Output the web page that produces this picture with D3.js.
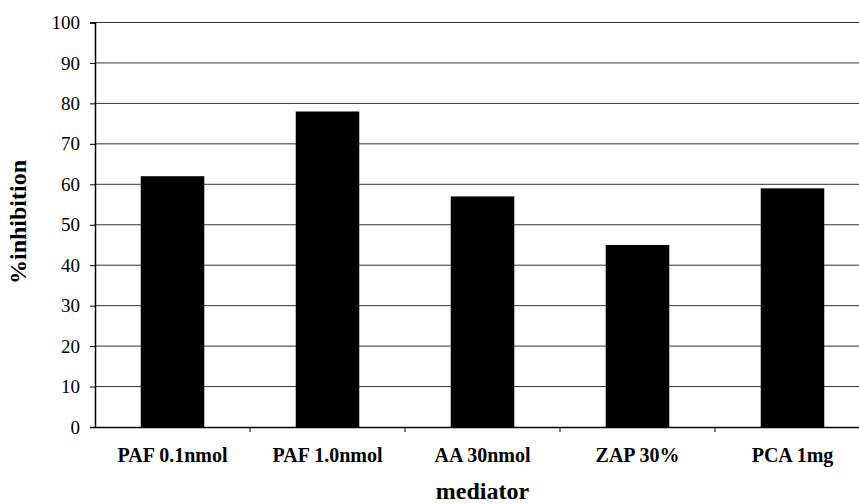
<!DOCTYPE html>
<html><head><meta charset="utf-8">
<script src="https://cdn.jsdelivr.net/npm/d3@7"></script>
<style>body{margin:0;background:#fff}svg{display:block}
text{font-family:"Liberation Serif","Times New Roman","DejaVu Serif",serif !important;fill:#000}</style>
</head><body>
<svg id="c" width="859" height="504"></svg>
<script>
const categories = ["PAF 0.1nmol", "PAF 1.0nmol", "AA 30nmol", "ZAP 30%", "PCA 1mg"];
const values = [62, 78, 57, 45, 59];
const yTicks = [0, 10, 20, 30, 40, 50, 60, 70, 80, 90, 100];
const yTitle = "%inhibition";
const xTitle = "mediator";

const svg = d3.select("#c");
const m = {left: 95, top: 22.5, right: 870, bottom: 427};
const x = d3.scaleBand().domain(categories).range([m.left, m.right]).paddingInner(0.59).paddingOuter(0.295);
const xb = d3.scaleBand().domain(categories).range([m.left, m.right]);
const y = d3.scaleLinear().domain([0, 100]).range([m.bottom, m.top]);

// gridlines
svg.append("g").selectAll("line").data(yTicks.filter(d => d > 0)).join("line")
  .attr("x1", m.left).attr("x2", m.right)
  .attr("y1", d => y(d)).attr("y2", d => y(d))
  .attr("stroke", "#333").attr("stroke-width", 1);

// bars
svg.append("g").selectAll("rect").data(values).join("rect")
  .attr("x", (d, i) => x(categories[i]))
  .attr("width", x.bandwidth())
  .attr("y", d => y(d))
  .attr("height", d => y(0) - y(d))
  .attr("fill", "#000");

// y axis
const ya = svg.append("g").attr("transform", `translate(${m.left},0)`)
  .call(d3.axisLeft(y).tickValues(yTicks).tickSize(5).tickPadding(10));
ya.select(".domain").attr("stroke", "#000").attr("stroke-width", 1.5);
ya.selectAll(".tick line").attr("stroke", "#000");
ya.selectAll("text").attr("font-size", 19);

// x axis
const xa = svg.append("g").attr("transform", `translate(0,${m.bottom})`)
  .call(d3.axisBottom(xb).tickSize(0).tickPadding(21));
xa.select(".domain").attr("stroke", "#000").attr("stroke-width", 1.5);
xa.selectAll("text").attr("font-weight", "bold").attr("font-size", 20);
// category boundary ticks
svg.append("g").selectAll("line").data(categories.slice(1)).join("line")
  .attr("x1", d => xb(d)).attr("x2", d => xb(d))
  .attr("y1", m.bottom).attr("y2", m.bottom + 5)
  .attr("stroke", "#000");

svg.append("text").attr("x", (m.left + m.right) / 2).attr("y", 499).attr("text-anchor", "middle")
  .attr("font-weight", "bold").attr("font-size", 24).text(xTitle);
svg.append("text").attr("transform", "translate(26,222) rotate(-90)").attr("text-anchor", "middle")
  .attr("font-weight", "bold").attr("font-size", 24).text(yTitle);
</script>
</body></html>
